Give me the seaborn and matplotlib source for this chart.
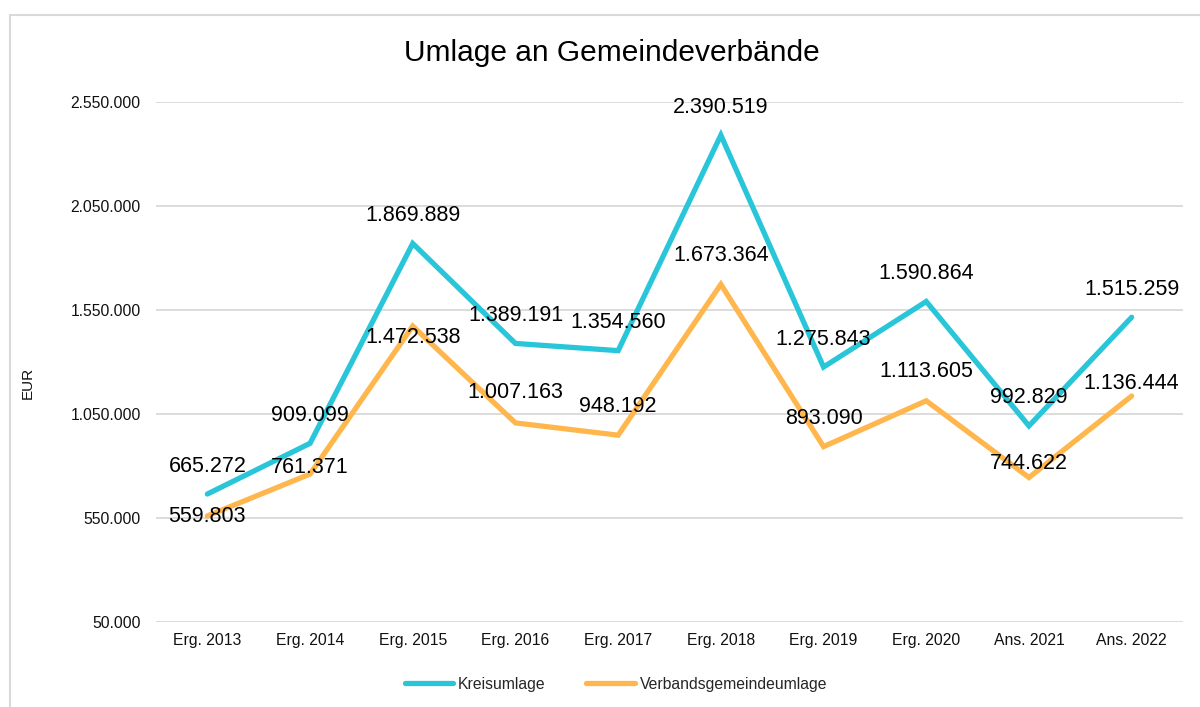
import numpy as np
import pandas as pd
import matplotlib
matplotlib.use("Agg")
import matplotlib.pyplot as plt
import seaborn as sns
from matplotlib.patches import Rectangle

# data
years = ["Erg. 2013", "Erg. 2014", "Erg. 2015", "Erg. 2016", "Erg. 2017",
         "Erg. 2018", "Erg. 2019", "Erg. 2020", "Ans. 2021", "Ans. 2022"]
kreisumlage = [665272, 909099, 1869889, 1389191, 1354560,
               2390519, 1275843, 1590864, 992829, 1515259]
verbandsumlage = [559803, 761371, 1472538, 1007163, 948192,
                  1673364, 893090, 1113605, 744622, 1136444]
series_names = ["Kreisumlage", "Verbandsgemeindeumlage"]
colors = ["#29C5D9", "#FFB74D"]
yticks = [50000, 550000, 1050000, 1550000, 2050000, 2550000]

# label offsets in pixels above the point (as placed in the original)
kreis_dy = [28] * 10
verband_dy = [-1, 7, -11, 30, 29, 29, 28, 29, 14, 13]


def de_fmt(v):
    return f"{int(round(v)):,}".replace(",", ".")


df = pd.DataFrame({
    "Jahr": years * 2,
    "Wert": kreisumlage + verbandsumlage,
    "Serie": [series_names[0]] * len(years) + [series_names[1]] * len(years),
})

sns.set_theme(style="white")
plt.rcParams["font.family"] = ["Liberation Sans", "DejaVu Sans"]

fig = plt.figure(figsize=(12, 7.07), dpi=100)
ax = fig.add_axes([156 / 1200, 1 - 622 / 707, 1027 / 1200, 520 / 707])

sns.lineplot(data=df, x="Jahr", y="Wert", hue="Serie", palette=colors,
             linewidth=3.8, sort=False, ax=ax, legend=False)
for line in ax.get_lines():
    line.set_solid_capstyle("round")
    line.set_solid_joinstyle("miter")

ax.set_xlim(-0.5, len(years) - 0.5)
ax.set_ylim(yticks[0], yticks[-1])
ax.set_yticks(yticks)
ax.set_yticklabels([de_fmt(t) for t in yticks], fontsize=11.3, color="#111111")
ax.set_xticks(range(len(years)))
ax.set_xticklabels(years, fontsize=11.3, color="#111111")
ax.tick_params(axis="both", length=0)
ax.tick_params(axis="y", pad=11)
ax.tick_params(axis="x", pad=8)
ax.yaxis.grid(True, color="#D9D9D9", linewidth=1.3)
ax.set_axisbelow(True)
for s in ax.spines.values():
    s.set_visible(False)
ax.set_xlabel("")
ax.set_ylabel("")
fig.text(28 / 1200, 1 - 383 / 707, "EUR", rotation=90, ha="center",
         va="center", fontsize=11, color="#111111")

# data labels
for vals, dys in ((kreisumlage, kreis_dy), (verbandsumlage, verband_dy)):
    for i, (v, dy) in enumerate(zip(vals, dys)):
        ax.annotate(de_fmt(v), (i, v), xytext=(0, dy * 0.72),
                    textcoords="offset points", ha="center", va="center",
                    fontsize=15.5, color="#000000")

fig.text(612 / 1200, 1 - 53 / 707, "Umlage an Gemeindeverbände",
         ha="center", va="center", fontsize=21.5, color="#000000")

# legend
handles = [plt.Line2D([], [], color=c, linewidth=3.8, solid_capstyle="round")
           for c in colors]
fig.legend(handles, series_names, loc="center", ncol=2,
           bbox_to_anchor=(616 / 1200, 1 - 684 / 707), frameon=False,
           fontsize=11.3, handlelength=3.1, handletextpad=0.3,
           columnspacing=2.6)

# outer chart border
fig.patches.append(Rectangle((10 / 1200, -0.1), 2, (707 - 15) / 707 + 0.1,
                             transform=fig.transFigure, fill=False,
                             edgecolor="#D9D9D9", linewidth=1.5))

fig.savefig("out.png", dpi=100)
